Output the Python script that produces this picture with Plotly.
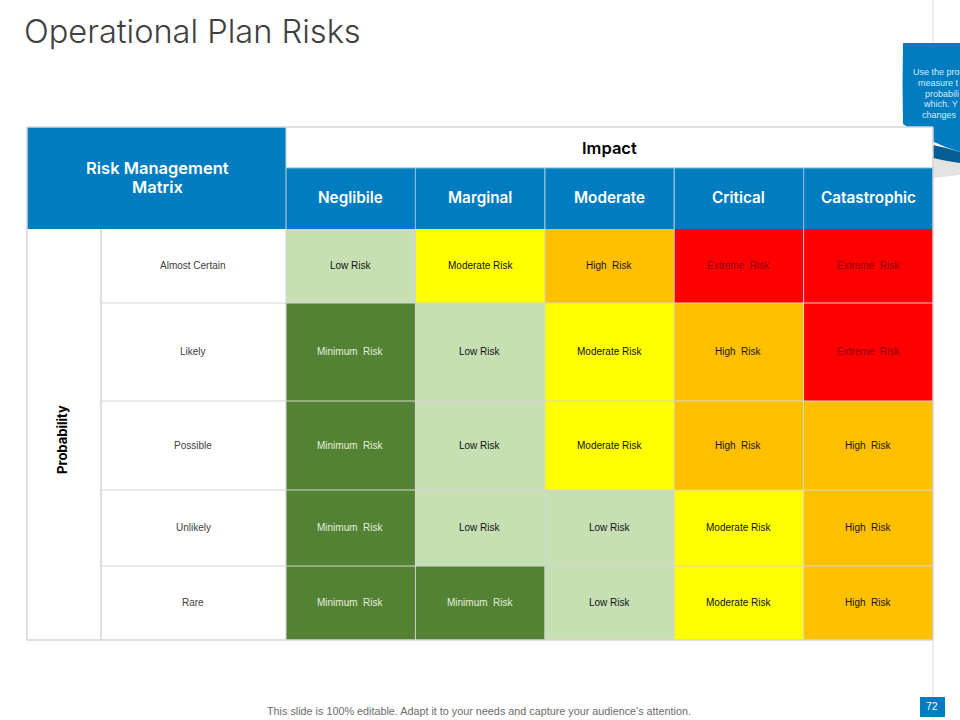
import plotly.graph_objects as go

# data
impact_levels = ['Neglibile', 'Marginal', 'Moderate', 'Critical', 'Catastrophic']
probability_levels = ['Almost Certain', 'Likely', 'Possible', 'Unlikely', 'Rare']
risk_names = ['Minimum  Risk', 'Low Risk', 'Moderate Risk', 'High  Risk', 'Extreme  Risk']
risk_matrix = [
    [1, 2, 3, 4, 4],
    [0, 1, 2, 3, 4],
    [0, 1, 2, 3, 3],
    [0, 1, 1, 2, 3],
    [0, 0, 1, 2, 3],
]

# styles
risk_colors = ['#548235', '#c6e0b4', '#ffff00', '#ffc000', '#ff0000']
risk_text_colors = ['#e2efda', '#111111', '#111111', '#1c1400', '#8a0010']
BLUE = '#007cc0'
GRID = '#d4d4d4'
HEAD_FONT = 'Inter'
CELL_FONT = 'Liberation Sans'

# layout in page pixels
col_edges = [286, 415.4, 544.8, 674.2, 803.6, 933]
row_edges = [229, 303, 401, 490, 566, 640]
TOP, HEAD_MID = 127, 168
LEFT, LABEL_X = 27, 101

n = len(risk_names)
colorscale = []
for i, c in enumerate(risk_colors):
    colorscale += [[i / n, c], [(i + 1) / n, c]]

fig = go.Figure(go.Heatmap(
    x=col_edges, y=row_edges, z=risk_matrix,
    zmin=-0.5, zmax=n - 0.5,
    colorscale=colorscale, showscale=False, hoverinfo='skip',
))


def rect(x0, y0, x1, y1, fill, layer='below'):
    return dict(type='rect', x0=x0, y0=y0, x1=x1, y1=y1, fillcolor=fill,
                line_width=0, layer=layer)


def line(x0, y0, x1, y1, color=GRID, width=1, layer='above'):
    return dict(type='line', x0=x0, y0=y0, x1=x1, y1=y1, layer=layer,
                line=dict(color=color, width=width))


def note(x, y, text, size, color, font=CELL_FONT, weight=400, **kw):
    return dict(x=x, y=y, text=text, showarrow=False, align='center',
                font=dict(family=font, size=size, color=color, weight=weight), **kw)


shapes = [
    # slide side rule, runs behind the callout
    line(933, 0, 933, 720, '#dcdcdc', 1, 'below'),
    # callout behind the table
    dict(type='path', layer='below', fillcolor='#e3e3e3', line_width=0,
         path='M 933 158 L 960 163 L 960 175 L 933 178 Z'),
    dict(type='path', layer='below', fillcolor=BLUE, line_width=0,
         path='M 903 43 L 960 43 L 960 152 Q 930 143 903 124 Q 902 84 903 43 Z'),
    dict(type='path', layer='below', fillcolor='#045d94', line_width=0,
         path='M 933 145 Q 948 148 960 152 L 960 163 Q 945 161 933 158 Z'),
    # table header
    rect(LEFT, TOP, col_edges[-1], HEAD_MID, 'white'),
    rect(LEFT, TOP, col_edges[0], row_edges[0], BLUE),
    rect(col_edges[0], HEAD_MID, col_edges[-1], row_edges[0], BLUE),
    rect(LEFT, row_edges[0], col_edges[0], row_edges[-1], 'white'),
    # outer table rules
    line(LEFT, TOP, col_edges[-1], TOP, GRID, 1.5),
    line(LEFT, TOP, LEFT, row_edges[-1], GRID, 1.5),
    line(LEFT, row_edges[-1], col_edges[-1], row_edges[-1], GRID, 1.5),
    line(col_edges[-1], TOP, col_edges[-1], row_edges[-1], GRID, 1.5),
    line(LABEL_X, row_edges[0], LABEL_X, row_edges[-1], GRID, 1.5),
    line(col_edges[0], HEAD_MID, col_edges[-1], HEAD_MID, '#7fb8dc', 1),
    # page number box
    rect(920, 697, 945, 717, BLUE),
]
for y in row_edges[1:-1]:
    shapes.append(line(LABEL_X, y, col_edges[-1], y))
for x in col_edges[:-1]:
    shapes.append(line(x, HEAD_MID if x > col_edges[0] else TOP, x, row_edges[-1]))
for x in col_edges[1:-1]:
    shapes.append(line(x, HEAD_MID, x, row_edges[0], '#7fb8dc', 1))

annotations = [
    note(22, 31, 'Operational Plan Risks', 32.6, '#404040', HEAD_FONT, 300, xanchor='left'),
    note(157, 168, 'Risk Management', 16.5, 'white', HEAD_FONT, 600),
    note(157, 187, 'Matrix', 16.5, 'white', HEAD_FONT, 600),
    note(609, 148, 'Impact', 16.5, 'black', HEAD_FONT, 600),
    note(62, 440, 'Probability', 13, 'black', HEAD_FONT, 700, textangle=-90),
    note(479, 711, "This slide is 100% editable. Adapt it to your needs and capture your audience's attention.",
         10.8, '#6b6b6b'),
    note(932, 706, '72', 10.5, 'white'),
]

# callout text, cut off by the page edge as on the slide
callout_lines = ['Use the pro', 'measure t', 'probabili', 'which. Y', 'changes']
callout_x = [911, 916, 923, 921, 920]
for i, (txt, x) in enumerate(zip(callout_lines, callout_x)):
    annotations.append(note(x, 72 + i * 10.8, txt, 9, '#dcecf7', xanchor='left'))

for c, name in enumerate(impact_levels):
    xm = (col_edges[c] + col_edges[c + 1]) / 2
    annotations.append(note(xm, 197, name, 15.3, 'white', HEAD_FONT, 600))

for r, name in enumerate(probability_levels):
    ym = (row_edges[r] + row_edges[r + 1]) / 2
    annotations.append(note(193, ym - 0.5, name, 10, '#404040'))
    for c, level in enumerate(risk_matrix[r]):
        xm = (col_edges[c] + col_edges[c + 1]) / 2
        annotations.append(note(xm, ym - 0.5, risk_names[level], 10, risk_text_colors[level]))

fig.update_layout(
    width=960, height=720,
    margin=dict(l=0, r=0, t=0, b=0),
    paper_bgcolor='white', plot_bgcolor='white',
    xaxis=dict(range=[0, 960], visible=False, fixedrange=True),
    yaxis=dict(range=[720, 0], visible=False, fixedrange=True),
    shapes=shapes, annotations=annotations,
)
fig.write_html("out.html", config={'displayModeBar': False},
               post_script="document.body.style.margin = '0';")
